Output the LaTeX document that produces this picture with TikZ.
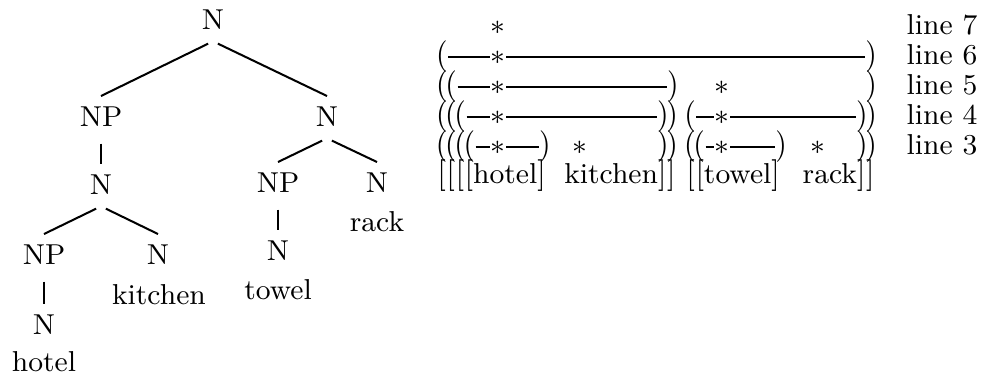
\documentclass[tikz,border=0pt]{standalone}
\usepackage{graphicx}
\newcommand{\kk}{\kern-.08em}
\newcommand{\kb}{\kern.03em}
\newcommand{\tall}[1]{\scalebox{1}[1.1]{#1}}
\begin{document}
\begin{tikzpicture}[x=0.3125pt, y=-0.3125pt, font=\fontsize{9}{11}\selectfont,
  cat/.style={anchor=base},
  edge/.style={line width=0.63pt, shorten <=1.7pt},
  cell/.style={inner sep=0pt, text height=0.75em, text depth=0.25em},
  rule/.style={line width=0.45pt}]
\useasboundingbox (0,0) rectangle (991,377);

% Tree
\node[cat] (n0)  at (213,30)  {N};
\node[cat] (np1) at (101,127) {NP};
\node[cat] (n1)  at (327,127) {N};
\node[cat] (n2)  at (101,195) {N};
\node[cat] (np2) at (44,265)  {NP};
\node[cat] (n3)  at (158,265) {N};
\node[cat] (n4)  at (44,335)  {N};
\node[cat] (np3) at (278,193) {NP};
\node[cat] (n5)  at (377,193) {N};
\node[cat] (n6)  at (278,261) {N};

% Words under the tree
\node[cat] (hotel)   at (44,372)  {hotel};
\node[cat] (kitchen) at (159,305) {kitchen};
\node[cat] (towel)   at (278,300) {towel};
\node[cat] (rack)    at (377,232) {rack};

% Branches
\draw[edge] (n0.south) -- (np1.north);
\draw[edge] (n0.south) -- (n1.north);
\draw[edge] (np1.south) -- (n2.north);
\draw[edge] (n2.south) -- (np2.north);
\draw[edge] (n2.south) -- (n3.north);
\draw[edge] (np2.south) -- (n4.north);
\draw[edge] (n1.south) -- (np3.north);
\draw[edge] (n1.south) -- (n5.north);
\draw[edge] (np3.south) -- (n6.north);

% Grid: stars
\foreach \n/\x/\y in {s7a/498/27, s6a/498/57, s5a/498/87, s5b/722/87,
  s4a/498/117, s4b/722/117, s3a/498/147, s3b/580/147, s3c/722/147, s3d/818/147}
{
  \node[cell] (\n) at (\x,\y) {$\ast$};
}

% Grid: opening parentheses
\foreach \n/\x/\y/\t in {o6a/442/57/{(}, o5a/446.5/87/{(\kk(},
  o4a/451/117/{(\kk(\kk(}, o4b/690/117/{(},
  o3a/455.5/147/{(\kk(\kk(\kk(}, o3b/694.5/147/{(\kk(}}
{
  \node[cell] (\n) at (\x,\y) {\tall{\t}};
}

% Grid: closing parentheses
\foreach \n/\x/\y/\t in {c6a/871/57/{)}, c5a/673/87/{)}, c5b/871/87/{)},
  c4a/667.5/117/{)\kk)}, c4b/866.5/117/{)\kk)},
  c3a/545/147/{)}, c3b/667.5/147/{)\kk)}, c3c/781/147/{)}, c3d/866.5/147/{)\kk)}}
{
  \node[cell] (\n) at (\x,\y) {\tall{\t}};
}

% Grid: rules
\draw[rule] (o6a) -- (s6a) -- (c6a);
\draw[rule] (o5a) -- (s5a) -- (c5a);
\draw[rule] (o4a) -- (s4a) -- (c4a);
\draw[rule] (o4b) -- (s4b) -- (c4b);
\draw[rule] (o3a) -- (s3a) -- (c3a);
\draw[rule] (o3b) -- (s3c) -- (c3c);

% Grid: bracketed words
\node[cell, anchor=west] (wh) at (437,176) {\tall{[\kb[\kb[\kb[}hotel\tall{]}};
\node[cell, anchor=east] (wk) at (676,176) {kitchen\tall{]\kb]}};
\node[cell, anchor=west] (wt) at (686,176) {\tall{[\kb[}towel\tall{]}};
\node[cell, anchor=east] (wr) at (875,176) {rack\tall{]\kb]}};

% Line labels
\foreach \r/\y in {7/27, 6/57, 5/87, 4/117, 3/147}
{
  \node[cell, anchor=west] (line\r) at (906,\y) {line \r};
}

\end{tikzpicture}
\end{document}
